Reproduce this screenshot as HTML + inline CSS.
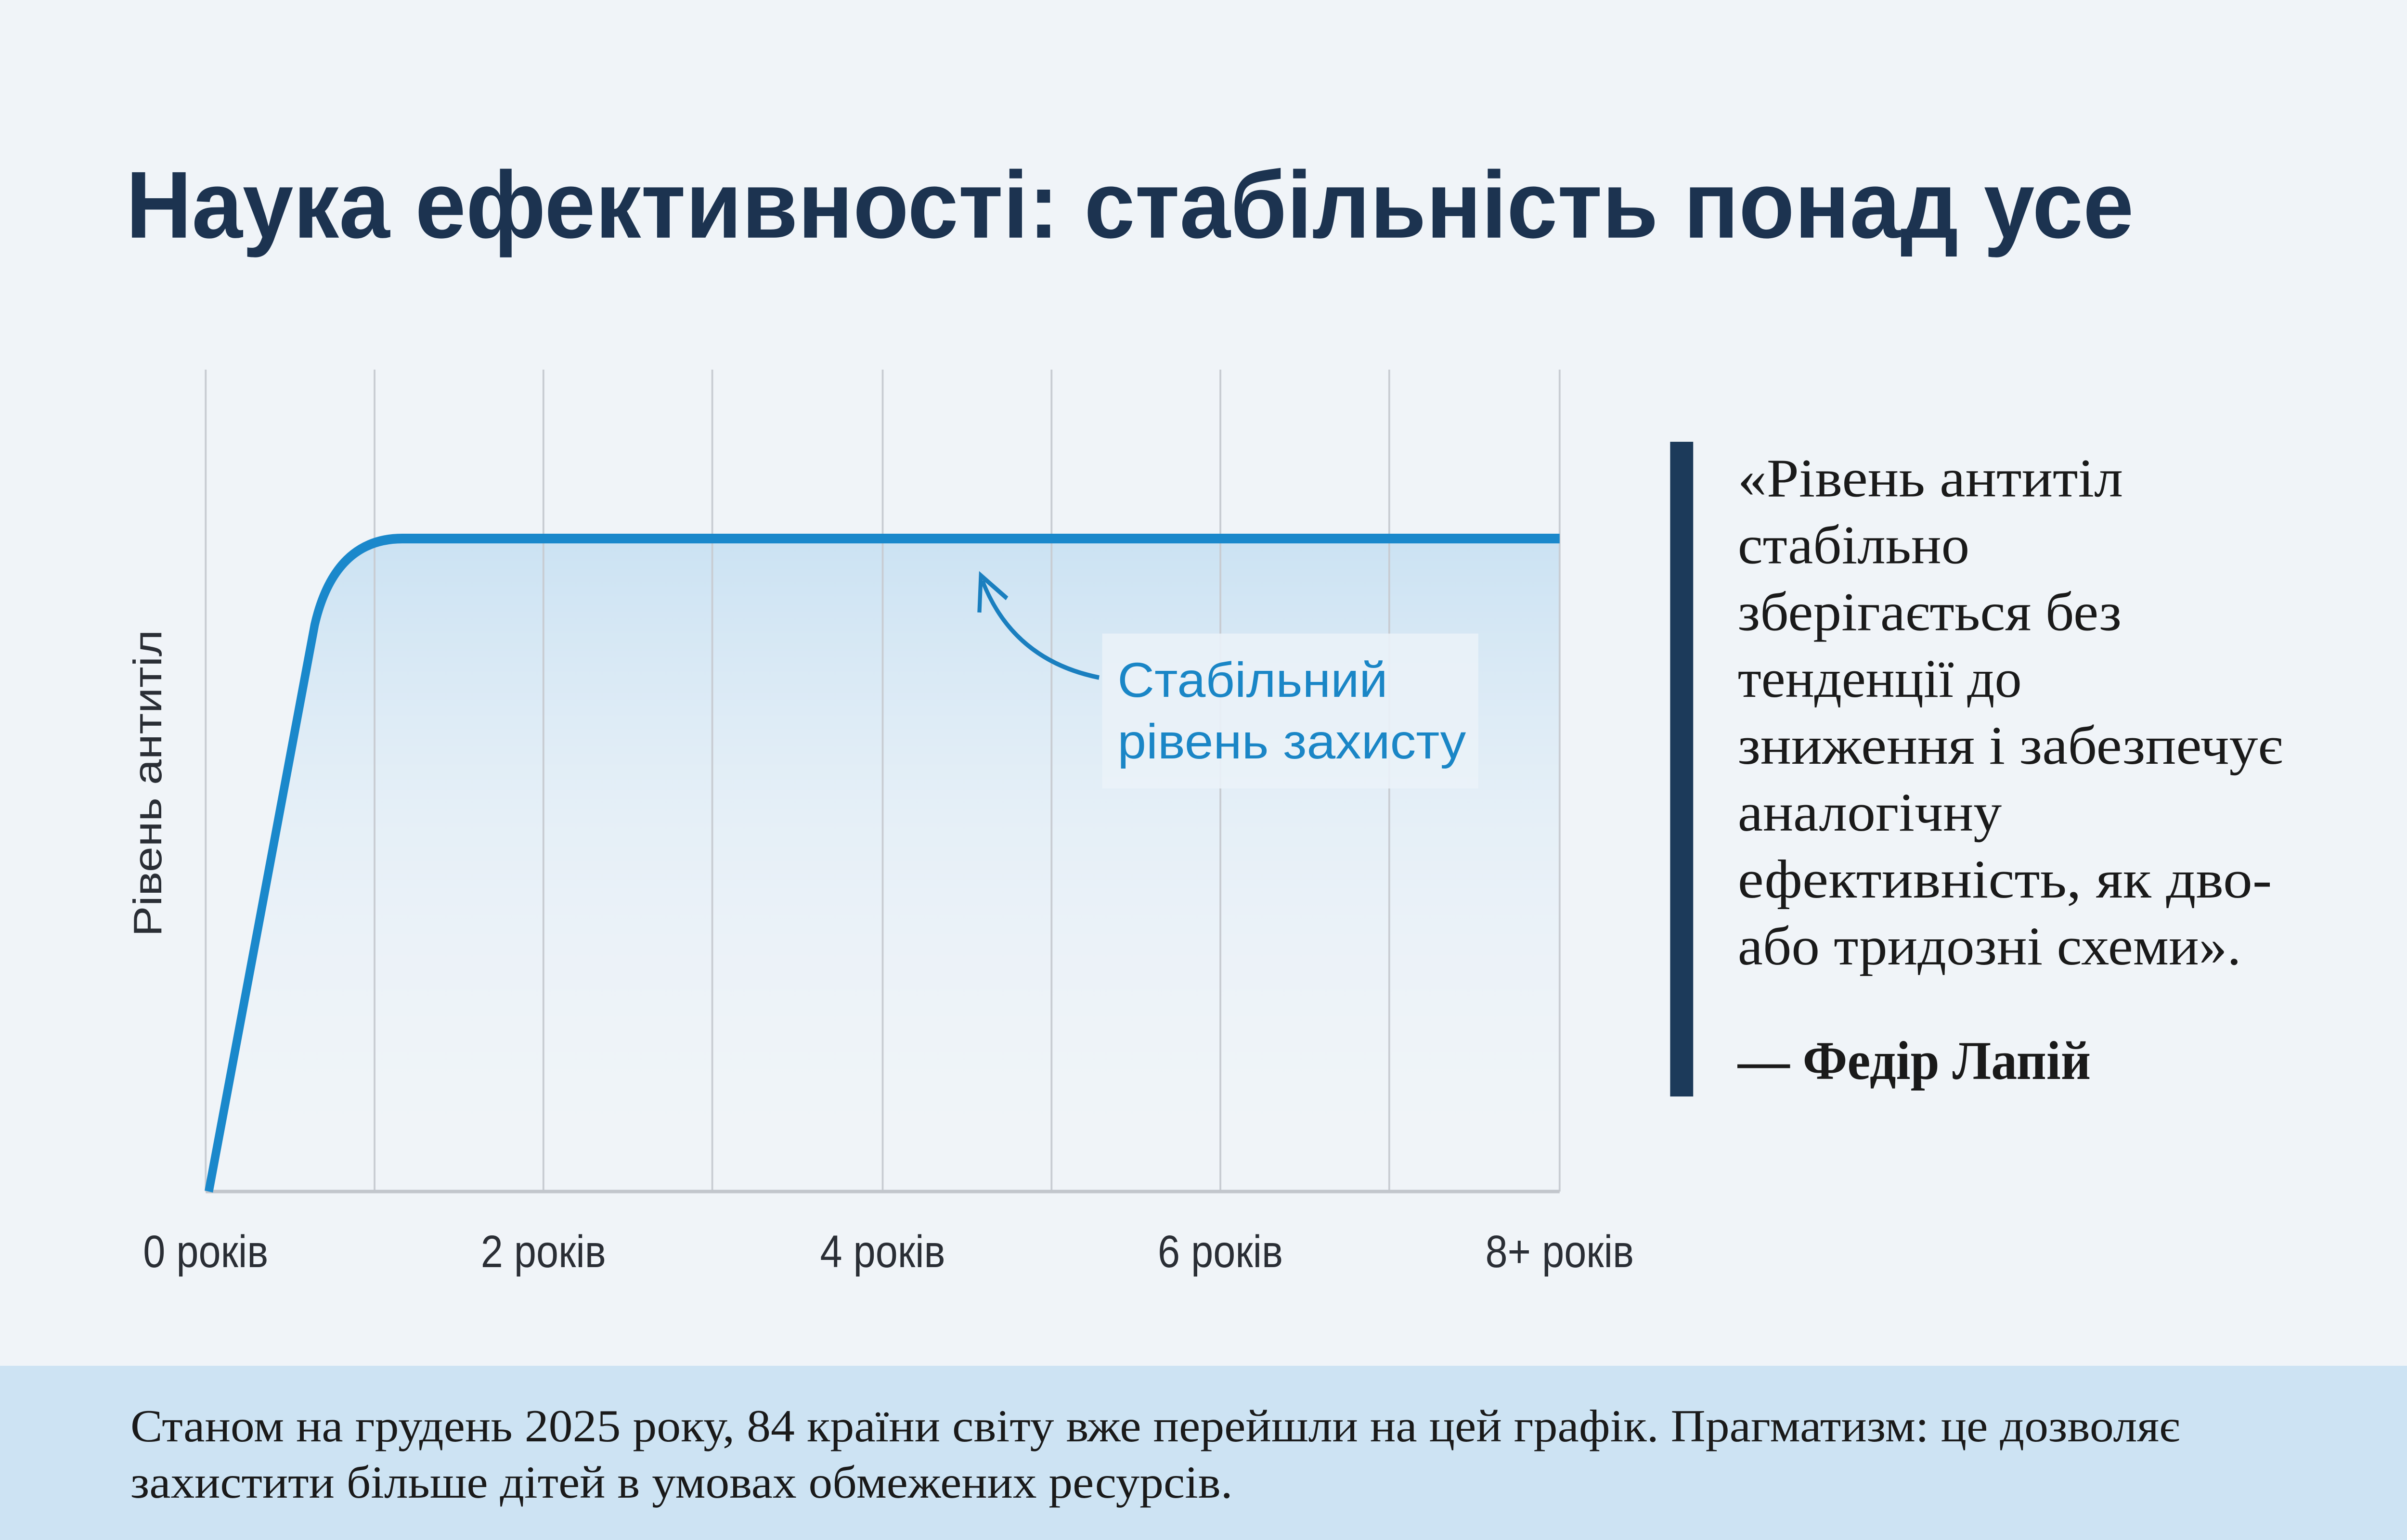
<!DOCTYPE html>
<html><head><meta charset="utf-8"><style>html,body{margin:0;padding:0;background:#f0f4f8;overflow:hidden;width:100vw;height:100vh}svg{display:block;position:fixed;left:0;top:0;width:100vw;height:100vh}</style></head>
<body>
<svg xmlns="http://www.w3.org/2000/svg" viewBox="0 0 1568 875" preserveAspectRatio="none">
<defs>
<linearGradient id="fill" x1="0" y1="0" x2="0" y2="1">
<stop offset="0" stop-color="#c9e1f2" stop-opacity="0.95"/>
<stop offset="0.4" stop-color="#dcebf6" stop-opacity="0.6"/>
<stop offset="1" stop-color="#eef4f9" stop-opacity="0"/>
</linearGradient>
</defs>
<rect width="1568" height="875" fill="#f0f4f8"/>
<text x="82" y="135" font-family="Liberation Sans, sans-serif" font-weight="bold" font-size="54" fill="#1c3350" textLength="1308" lengthAdjust="spacingAndGlyphs">Наука ефективності: стабільність понад усе</text>
<path d="M136,677 L205,355 Q218,306 262,306 L1016,306 L1016,677 Z" fill="url(#fill)"/>
<g stroke="#c8ccd2" stroke-width="1.2">
<line x1="134" y1="210" x2="134" y2="677"/><line x1="244" y1="210" x2="244" y2="677"/>
<line x1="354" y1="210" x2="354" y2="677"/><line x1="464" y1="210" x2="464" y2="677"/>
<line x1="575" y1="210" x2="575" y2="677"/><line x1="685" y1="210" x2="685" y2="677"/>
<line x1="795" y1="210" x2="795" y2="677"/><line x1="905" y1="210" x2="905" y2="677"/>
<line x1="1016" y1="210" x2="1016" y2="677"/>
</g>
<line x1="134" y1="677" x2="1016" y2="677" stroke="#c2c6cc" stroke-width="2"/>
<rect x="718" y="360" width="245" height="88" fill="#eaf2f8" opacity="0.9"/>
<path d="M136,677 L205,355 Q218,306 262,306 L1016,306" fill="none" stroke="#1a88cb" stroke-width="5.5" stroke-linejoin="round"/>
<path d="M716,385 Q660,375 640,330" fill="none" stroke="#1a7fbf" stroke-width="2.6"/>
<path d="M638,348 L639,327 L656,340" fill="none" stroke="#1a7fbf" stroke-width="2.6"/>
<g font-family="Liberation Sans, sans-serif" font-size="28" fill="#1a86c6">
<text x="728" y="396" textLength="176" lengthAdjust="spacingAndGlyphs">Стабільний</text>
<text x="728" y="431" textLength="227" lengthAdjust="spacingAndGlyphs">рівень захисту</text>
</g>
<text transform="translate(105,445) rotate(-90)" text-anchor="middle" font-family="Liberation Sans, sans-serif" font-size="26" fill="#2a2e35">Рівень антитіл</text>
<g font-family="Liberation Sans, sans-serif" font-size="26" fill="#2a2e35" text-anchor="middle">
<text x="134" y="720">0 років</text><text x="354" y="720">2 років</text>
<text x="575" y="720">4 років</text><text x="795" y="720">6 років</text>
<text x="1016" y="720">8+ років</text>
</g>
<rect x="1088" y="251" width="15" height="372" fill="#1c3a5a"/>
<g font-family="Liberation Serif, serif" font-size="31" fill="#1a1a1a">
<text x="1132" y="282" textLength="251" lengthAdjust="spacingAndGlyphs">«Рівень антитіл</text>
<text x="1132" y="320" textLength="151" lengthAdjust="spacingAndGlyphs">стабільно</text>
<text x="1132" y="358" textLength="250" lengthAdjust="spacingAndGlyphs">зберігається без</text>
<text x="1132" y="396" textLength="185" lengthAdjust="spacingAndGlyphs">тенденції до</text>
<text x="1132" y="434" textLength="355" lengthAdjust="spacingAndGlyphs">зниження і забезпечує</text>
<text x="1132" y="472" textLength="172" lengthAdjust="spacingAndGlyphs">аналогічну</text>
<text x="1132" y="510" textLength="348" lengthAdjust="spacingAndGlyphs">ефективність, як дво-</text>
<text x="1132" y="548" textLength="328" lengthAdjust="spacingAndGlyphs">або тридозні схеми».</text>
<text x="1132" y="613" font-weight="bold" textLength="230" lengthAdjust="spacingAndGlyphs">— Федір Лапій</text>
</g>
<rect x="0" y="776" width="1568" height="99" fill="#cde3f3"/>
<g font-family="Liberation Serif, serif" font-size="26" fill="#1a1a1a">
<text x="85" y="819" textLength="1335" lengthAdjust="spacingAndGlyphs">Станом на грудень 2025 року, 84 країни світу вже перейшли на цей графік. Прагматизм: це дозволяє</text>
<text x="85" y="851" textLength="718" lengthAdjust="spacingAndGlyphs">захистити більше дітей в умовах обмежених ресурсів.</text>
</g>
</svg>
</body></html>
